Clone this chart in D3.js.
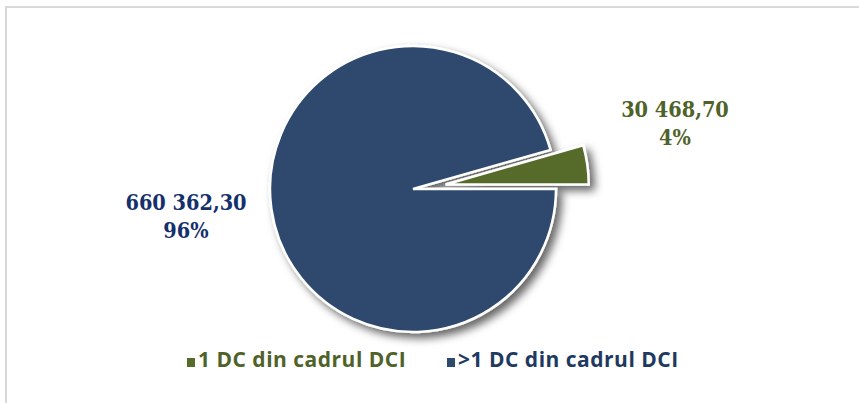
<!DOCTYPE html>
<html>
<head>
<meta charset="utf-8">
<script src="https://cdn.jsdelivr.net/npm/d3@7"></script>
<style>
  html, body { margin: 0; padding: 0; background: #fff; }
  svg { display: block; }
</style>
</head>
<body>
<div id="chart"></div>
<script>
// date
const categories = ["1 DC din cadrul DCI", ">1 DC din cadrul DCI"];
const values = [30468.70, 660362.30];
const sliceColors = ["#566b2c", "#2d4a6d"];
const labelColors = ["#4f6228", "#15306b"];
const legendColors = ["#4f6228", "#1f3a60"];

const W = 859, H = 403;
const cx = 413, cy = 189, R = 143;
const explode = 33;

const ro = d3.formatLocale({ decimal: ",", thousands: " ", grouping: [3], currency: ["", ""] });
const fmtVal = ro.format(",.2f");
const fmtPct = ro.format(".0%");
const total = d3.sum(values);

const svg = d3.select("#chart").append("svg")
    .attr("width", W)
    .attr("height", H);

// rama
svg.append("path")
    .attr("d", `M6,${H} L6,7 L${W},7`)
    .attr("fill", "none")
    .attr("stroke", "#d9d9d9")
    .attr("stroke-width", 2);

const defs = svg.append("defs");
const f = defs.append("filter").attr("id", "umbra")
    .attr("x", "-20%").attr("y", "-20%").attr("width", "140%").attr("height", "140%");
f.append("feDropShadow")
    .attr("dx", 5).attr("dy", 5)
    .attr("stdDeviation", 4.5)
    .attr("flood-color", "#000")
    .attr("flood-opacity", 0.6);

const frac0 = values[0] / total;
const pie = d3.pie()
    .sort(null)
    .startAngle(Math.PI / 2 - 2 * Math.PI * frac0)
    .endAngle(Math.PI / 2 - 2 * Math.PI * frac0 + 2 * Math.PI);

const arc = d3.arc().innerRadius(0).outerRadius(R);
const arcs = pie(values);

const g = svg.append("g")
    .attr("transform", `translate(${cx},${cy})`)
    .attr("filter", "url(#umbra)");

g.selectAll("path.felie")
    .data(arcs)
    .enter()
    .append("path")
    .attr("class", "felie")
    .attr("d", arc)
    .attr("fill", (d, i) => sliceColors[i])
    .attr("stroke", "#fff")
    .attr("stroke-width", 2.5)
    .attr("stroke-linejoin", "miter")
    .attr("transform", (d, i) => {
        if (i !== 0) return null;
        const a = (d.startAngle + d.endAngle) / 2;
        return `translate(${Math.sin(a) * explode},${-Math.cos(a) * explode})`;
    });

// etichete
const labelPos = [[675, 117], [186, 210]];
const lbl = svg.selectAll("text.eticheta")
    .data(arcs)
    .enter()
    .append("text")
    .attr("class", "eticheta")
    .attr("text-anchor", "middle")
    .attr("font-family", "'DejaVu Serif Condensed', 'Liberation Serif', serif")
    .attr("font-weight", "bold")
    .attr("font-size", 21.5)
    .attr("fill", (d, i) => labelColors[i]);

lbl.append("tspan")
    .attr("x", (d, i) => labelPos[i][0])
    .attr("y", (d, i) => labelPos[i][1])
    .text(d => fmtVal(d.value));
lbl.append("tspan")
    .attr("x", (d, i) => labelPos[i][0])
    .attr("dy", 28)
    .text(d => fmtPct(d.value / total));

// legenda
const legX = [187, 447];
const leg = svg.selectAll("g.legenda")
    .data(categories)
    .enter()
    .append("g")
    .attr("class", "legenda")
    .attr("transform", (d, i) => `translate(${legX[i]},358)`);

leg.append("rect")
    .attr("width", 8).attr("height", 9)
    .attr("fill", (d, i) => sliceColors[i]);

leg.append("text")
    .attr("x", 11)
    .attr("y", 9)
    .attr("font-family", "'Open Sans', sans-serif")
    .attr("font-weight", "bold")
    .attr("font-size", 21)
    .attr("letter-spacing", 0.5)
    .attr("fill", (d, i) => legendColors[i])
    .text(d => d);
</script>
</body>
</html>
